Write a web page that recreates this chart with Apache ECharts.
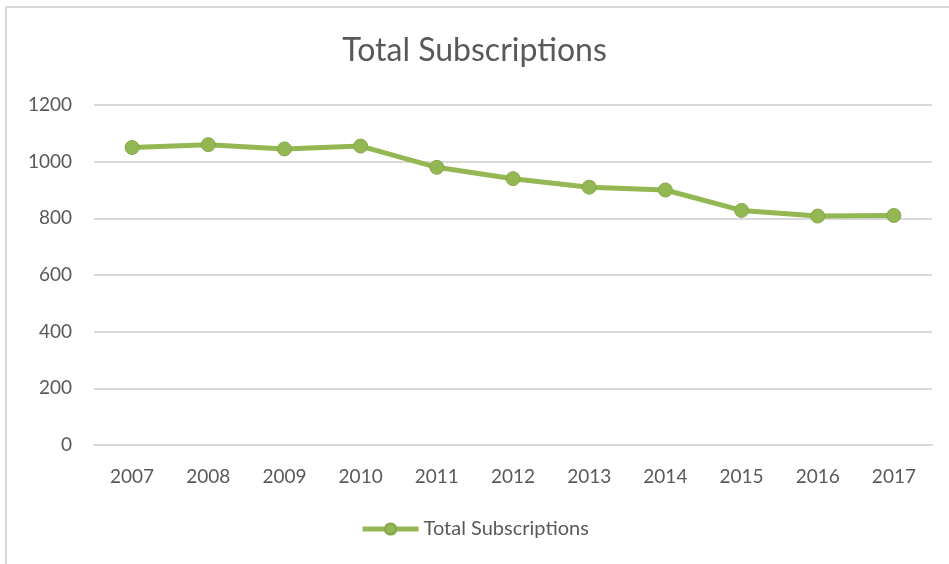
<!DOCTYPE html>
<html lang="en">
<head>
	<meta charset="UTF-8">
	<title>Total Subscriptions</title>
	<style type="text/css">
		html, body{
			margin: 0;
			padding: 0;
			background: #fff;
		}
		.box{
			position: absolute;
			left: 5px;
			top: 6px;
			width: 944px;
			height: 558px;
			border-left: 2px solid #d9d9d9;
			border-top: 2px solid #d9d9d9;
		}
		#chart{
			position: absolute;
			left: 0;
			top: 0;
			width: 949px;
			height: 564px;
		}
	</style>
</head>
<body>
	<div class="box"></div>
	<div id="chart"></div>
	<script type="text/javascript" src="https://cdn.jsdelivr.net/npm/echarts@6/dist/echarts.min.js"></script>
	<script type="text/javascript">
		// data
		var years = ['2007', '2008', '2009', '2010', '2011', '2012', '2013', '2014', '2015', '2016', '2017'];
		var subscriptions = [1050, 1060, 1045, 1055, 980, 940, 910, 900, 828, 808, 810];
		var seriesName = 'Total Subscriptions';

		var myChart = echarts.init(document.getElementById('chart'));
		var font = 'Lato, "Open Sans", sans-serif';
		var green = '#93b853';

		var option = {
			animation: false,
			title: {
				text: 'Total Subscriptions',
				left: 'center',
				top: 30,
				textStyle: {
					fontFamily: font,
					fontSize: 32,
					fontWeight: 'normal',
					color: '#595959'
				}
			},
			grid: {
				left: 94,
				right: 17,
				top: 105,
				bottom: 119
			},
			legend: {
				bottom: 20,
				left: 'center',
				itemWidth: 56,
				itemHeight: 14,
				itemGap: 4,
				lineStyle: { width: 5 },
				textStyle: {
					fontFamily: font,
					fontSize: 20,
					color: '#595959'
				},
				data: [seriesName]
			},
			xAxis: {
				type: 'category',
				data: years,
				boundaryGap: true,
				axisLine: { lineStyle: { color: '#d9d9d9', width: 2 } },
				axisTick: { show: false },
				axisLabel: {
					margin: 22,
					fontFamily: font,
					fontSize: 19,
					color: '#595959'
				}
			},
			yAxis: {
				type: 'value',
				min: 0,
				max: 1200,
				interval: 200,
				axisLine: { show: false },
				axisTick: { show: false },
				splitLine: { lineStyle: { color: '#d9d9d9', width: 2 } },
				axisLabel: {
					margin: 22,
					fontFamily: font,
					fontSize: 19,
					color: '#595959',
					formatter: function (v){
						return String(v);
					}
				}
			},
			series: [{
				name: seriesName,
				type: 'line',
				data: subscriptions,
				symbol: 'circle',
				symbolSize: 14,
				lineStyle: { color: green, width: 5 },
				itemStyle: { color: green, borderColor: '#85a84a', borderWidth: 1 }
			}]
		};
		myChart.setOption(option);
	</script>
</body>
</html>
